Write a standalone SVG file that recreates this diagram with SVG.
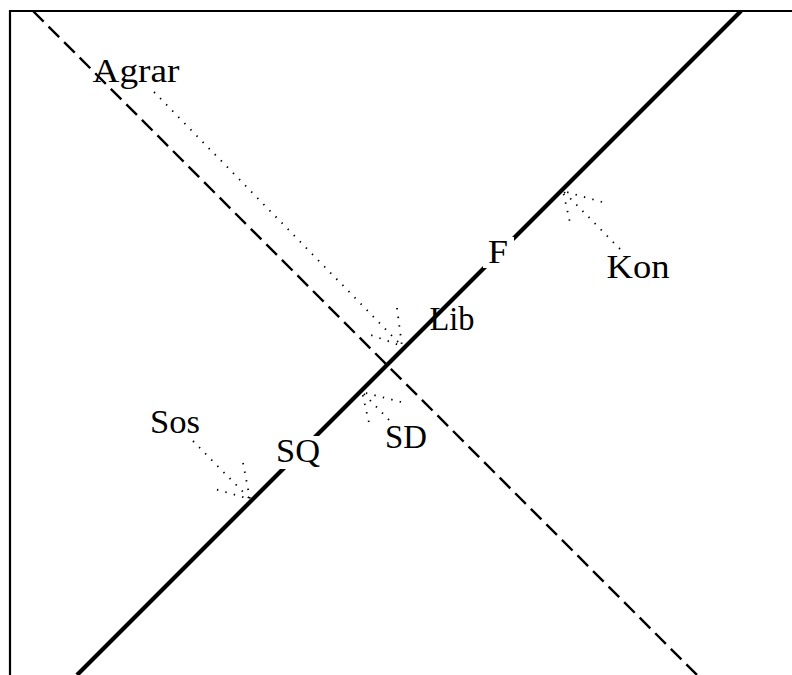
<svg xmlns="http://www.w3.org/2000/svg" width="792" height="675" viewBox="0 0 792 675">
<style>
.lbl{font-family:"Liberation Serif","Times New Roman",serif;font-size:34px;fill:#000;text-anchor:middle}
.dot{fill:none;stroke:#000;stroke-width:1.8;stroke-dasharray:1.4 7.3;stroke-linecap:butt}
.bg{fill:#fff;stroke:none}
</style>
<defs>
<clipPath id="box"><rect x="10" y="11" width="800" height="700"/></clipPath>
</defs>
<rect width="792" height="675" fill="#fff"/>
<g id="frame">
<path d="M10,680 V11 H800" fill="none" stroke="#000" stroke-width="2.2"/>
</g>
<g id="connectors" clip-path="url(#box)">
<line x1="741" y1="11" x2="77" y2="675" stroke="#000" stroke-width="4.2"/>
<line x1="33" y1="11" x2="700" y2="678" stroke="#000" stroke-width="2.4" stroke-dasharray="15 7"/>
<path class="dot" d="M154,92 L402,346 M397,308 L402,346 L365,333"/>
<path class="dot" d="M620,249 L563,191 M602,202 L563,191 L571,227"/>
<path class="dot" d="M389,420 L362,392 M401,402 L362,392 L370,427"/>
<path class="dot" d="M193,441 L250,499 M243,463 L250,499 L211,488"/>
</g>
<g id="node-agrar"><text class="lbl" x="136" y="82" textLength="87" lengthAdjust="spacingAndGlyphs">Agrar</text></g>
<g id="node-kon"><text class="lbl" x="638" y="278" textLength="63" lengthAdjust="spacingAndGlyphs">Kon</text></g>
<g id="node-f"><rect class="bg" x="483" y="237" width="31" height="31"/><text class="lbl" x="498" y="263" textLength="20" lengthAdjust="spacingAndGlyphs">F</text></g>
<g id="node-lib"><text class="lbl" x="452" y="330" textLength="45" lengthAdjust="spacingAndGlyphs">Lib</text></g>
<g id="node-sd"><text class="lbl" x="406" y="448" textLength="42" lengthAdjust="spacingAndGlyphs">SD</text></g>
<g id="node-sos"><text class="lbl" x="175" y="433" textLength="50" lengthAdjust="spacingAndGlyphs">Sos</text></g>
<g id="node-sq"><rect class="bg" x="272" y="436" width="52" height="33"/><text class="lbl" x="298" y="462" textLength="44" lengthAdjust="spacingAndGlyphs">SQ</text></g>
</svg>
